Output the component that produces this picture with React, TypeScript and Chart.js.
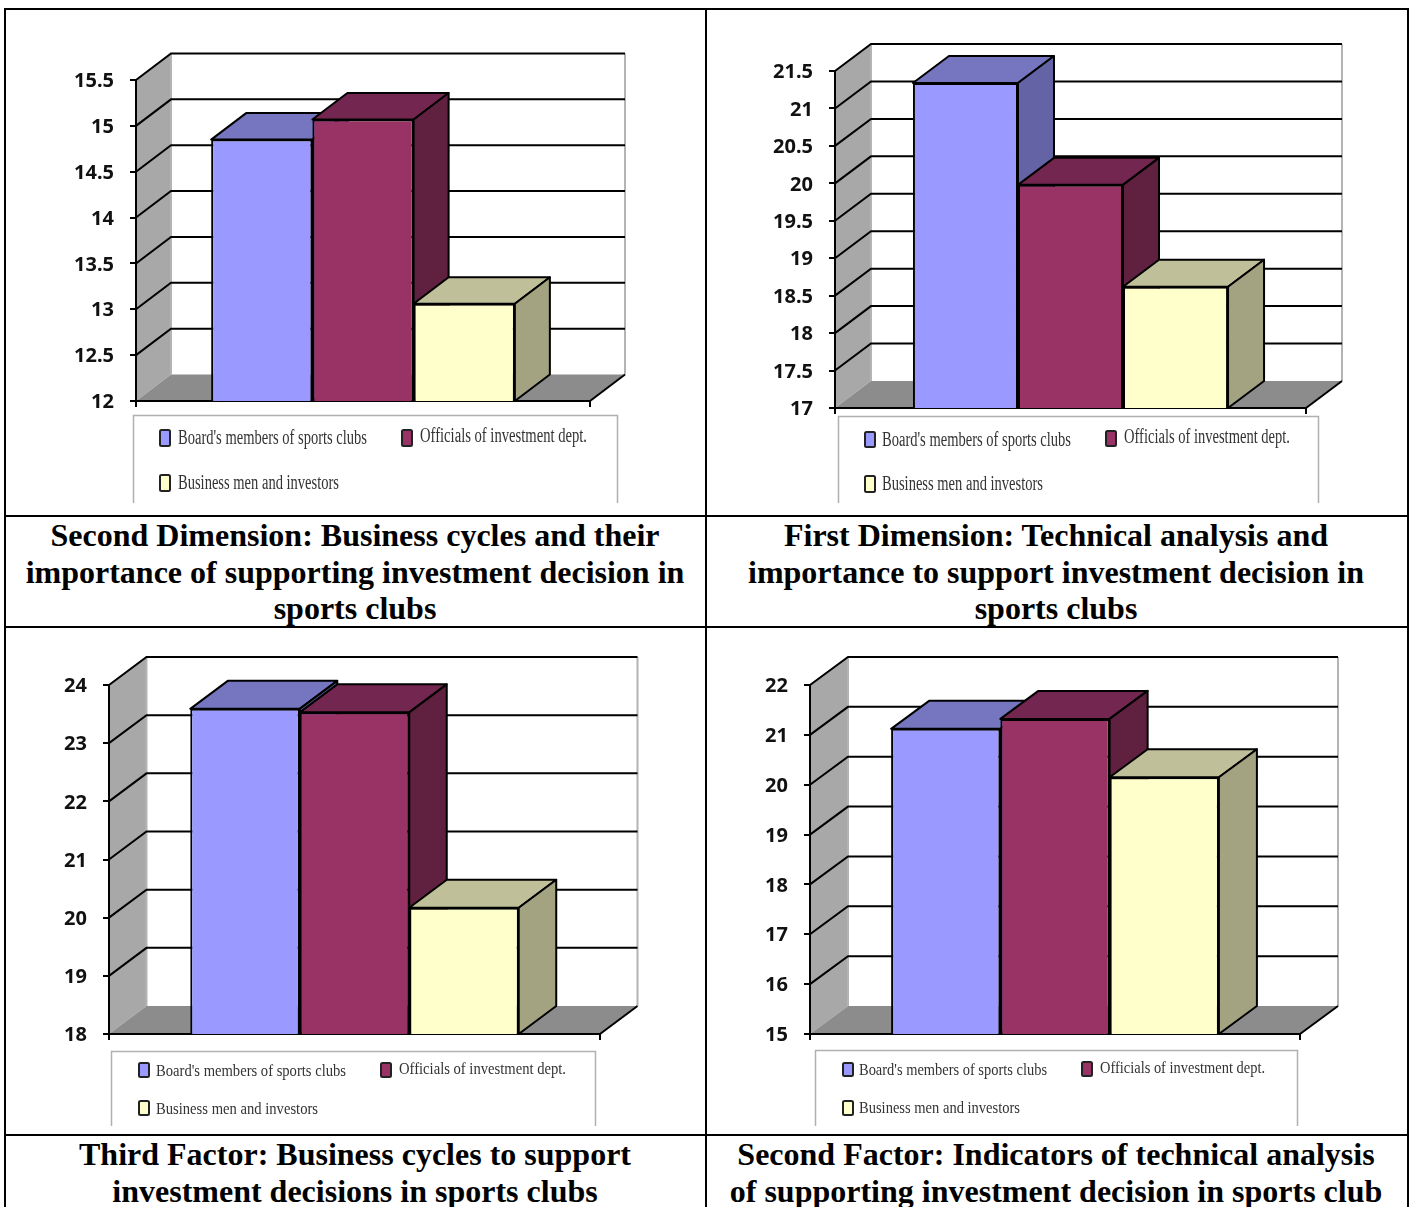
import React, { useEffect, useRef } from "react";
import { Chart, registerables } from "chart.js";

Chart.register(...registerables);

// Survey groups shown as the three bars of every panel
const groupLabels = ["Board's members of sports clubs", "Officials of investment dept.", "Business men and investors"];
const categories = [""];

// Mean scores per group
const secondDimensionValues = [14.85, 15.07, 13.06];
const firstDimensionValues = [21.34, 19.98, 18.62];
const thirdFactorValues = [23.59, 23.53, 20.17];
const secondFactorValues = [21.12, 21.32, 20.15];

// Value axis ranges: [min, max, step]
const secondDimensionRange = [12, 15.5, 0.5];
const firstDimensionRange = [17, 21.5, 0.5];
const thirdFactorRange = [18, 24, 1];
const secondFactorRange = [15, 22, 1];

const frontColors = ["#9999ff", "#993366", "#ffffcc"];
const topColors = ["#7575c0", "#732650", "#bfbf99"];
const sideColors = ["#6363a6", "#602040", "#a3a382"];

type LegendSlot = { sx: number; sy: number; sh: number; tx: number; tw: number; cy: number };
type PanelSpec = {
  values: number[];
  range: number[];
  box: { x: number; y: number; w: number; h: number };
  plot: { left: number; right: number; top: number; bottom: number; dx: number; dy: number };
  legendBox: { left: number; right: number; top: number; bottom: number };
  legendFont: number;
  slots: LegendSlot[];
};

const panels: PanelSpec[] = [
  {
    values: secondDimensionValues,
    range: secondDimensionRange,
    box: { x: 6, y: 10, w: 699, h: 505 },
    plot: { left: 136, right: 590, top: 80, bottom: 401, dx: 35, dy: 26.5 },
    legendBox: { left: 133, right: 617, top: 415, bottom: 503 },
    legendFont: 20,
    slots: [
      { sx: 160, sy: 430, sh: 16, tx: 178, tw: 189, cy: 439 },
      { sx: 402, sy: 430, sh: 16, tx: 420, tw: 167, cy: 437 },
      { sx: 160, sy: 475, sh: 16, tx: 178, tw: 161, cy: 484 },
    ],
  },
  {
    values: firstDimensionValues,
    range: firstDimensionRange,
    box: { x: 708, y: 10, w: 699, h: 505 },
    plot: { left: 835, right: 1306, top: 71, bottom: 408, dx: 36, dy: 27 },
    legendBox: { left: 838, right: 1318, top: 416, bottom: 503 },
    legendFont: 20,
    slots: [
      { sx: 865, sy: 432, sh: 15, tx: 882, tw: 189, cy: 441 },
      { sx: 1106, sy: 431, sh: 15, tx: 1124, tw: 166, cy: 438 },
      { sx: 865, sy: 476, sh: 16, tx: 882, tw: 161, cy: 485 },
    ],
  },
  {
    values: thirdFactorValues,
    range: thirdFactorRange,
    box: { x: 6, y: 629, w: 699, h: 505 },
    plot: { left: 109, right: 600, top: 685, bottom: 1034, dx: 37.5, dy: 28 },
    legendBox: { left: 111, right: 595, top: 1051, bottom: 1126 },
    legendFont: 17,
    slots: [
      { sx: 139, sy: 1063, sh: 14, tx: 156, tw: 190, cy: 1072 },
      { sx: 381, sy: 1063, sh: 14, tx: 399, tw: 167, cy: 1070 },
      { sx: 139, sy: 1101, sh: 14, tx: 156, tw: 162, cy: 1110 },
    ],
  },
  {
    values: secondFactorValues,
    range: secondFactorRange,
    box: { x: 708, y: 629, w: 699, h: 505 },
    plot: { left: 810, right: 1300, top: 685, bottom: 1034, dx: 38, dy: 28 },
    legendBox: { left: 815, right: 1297, top: 1050, bottom: 1126 },
    legendFont: 17,
    slots: [
      { sx: 843, sy: 1063, sh: 13, tx: 859, tw: 188, cy: 1071 },
      { sx: 1082, sy: 1062, sh: 14, tx: 1100, tw: 165, cy: 1069 },
      { sx: 843, sy: 1101, sh: 14, tx: 859, tw: 161, cy: 1109 },
    ],
  },
];

const captions = [
  { cx: 355, top: 517, lines: ["Second Dimension: Business cycles and their", "importance of supporting investment decision in", "sports clubs"] },
  { cx: 1056, top: 517, lines: ["First Dimension: Technical analysis and", "importance to support investment decision in", "sports clubs"] },
  { cx: 355, top: 1136, lines: ["Third Factor: Business cycles to support", "investment decisions in sports clubs"] },
  { cx: 1056, top: 1136, lines: ["Second Factor: Indicators of technical analysis", "of supporting investment decision in sports club"] },
];

const tableLines = [
  { left: 4, top: 8, width: 1405, height: 2 },
  { left: 4, top: 515, width: 1405, height: 2 },
  { left: 4, top: 626, width: 1405, height: 2 },
  { left: 4, top: 1134, width: 1405, height: 2 },
  { left: 4, top: 8, width: 2, height: 1199 },
  { left: 705, top: 8, width: 2, height: 1199 },
  { left: 1407, top: 8, width: 2, height: 1199 },
];

function polygon(ctx: CanvasRenderingContext2D, pts: number[][], fill: string) {
  ctx.beginPath();
  pts.forEach(([x, y], i) => (i ? ctx.lineTo(x, y) : ctx.moveTo(x, y)));
  ctx.closePath();
  ctx.fillStyle = fill;
  ctx.fill();
}

// Draws the box the bars stand in, the depth faces of the bars and the legend frame
function makeDepthPlugin(spec: PanelSpec) {
  const { dx, dy } = spec.plot;
  return {
    id: "depthBox",
    beforeDraw(chart: any) {
      const { ctx, chartArea, scales } = chart;
      const { left, right, top, bottom } = chartArea;
      const bl = left + dx;
      const br = right + dx;
      ctx.save();
      polygon(ctx, [[left, top], [bl, top - dy], [bl, bottom - dy], [left, bottom]], "#a8a8a8");
      polygon(ctx, [[left, bottom], [bl, bottom - dy], [br, bottom - dy], [right, bottom]], "#8c8c8c");

      ctx.strokeStyle = "#b4b4b4";
      ctx.lineWidth = 2;
      ctx.beginPath();
      ctx.moveTo(bl, top - dy);
      ctx.lineTo(bl, bottom - dy);
      ctx.moveTo(br, top - dy);
      ctx.lineTo(br, bottom - dy);
      ctx.stroke();

      ctx.strokeStyle = "#000";
      ctx.lineWidth = 2;
      scales.y.ticks.forEach((tick: any, i: number) => {
        if (i === 0) return;
        const py = scales.y.getPixelForValue(tick.value);
        ctx.beginPath();
        ctx.moveTo(left, py);
        ctx.lineTo(bl, py - dy);
        ctx.lineTo(br, py - dy);
        ctx.stroke();
      });
      ctx.beginPath();
      ctx.moveTo(right, bottom);
      ctx.lineTo(br, bottom - dy);
      ctx.stroke();
      ctx.restore();
    },
    beforeDatasetsDraw(chart: any) {
      const { ctx, chartArea } = chart;
      ctx.save();
      ctx.strokeStyle = "#000";
      ctx.lineWidth = 2;
      ctx.lineJoin = "round";
      chart.data.datasets.forEach((_: any, i: number) => {
        const bar = chart.getDatasetMeta(i).data[0];
        const l = bar.x - bar.width / 2;
        const r = bar.x + bar.width / 2;
        const t = bar.y;
        // The bars rise from zero, so the visible foot sits on the axis floor
        const b = Math.min(bar.base, chartArea.bottom);
        polygon(ctx, [[l, t], [l + dx, t - dy], [r + dx, t - dy], [r, t]], topColors[i]);
        ctx.stroke();
        polygon(ctx, [[r, t], [r + dx, t - dy], [r + dx, b - dy], [r, b]], sideColors[i]);
        ctx.stroke();
      });
      ctx.restore();
    },
    afterDraw(chart: any) {
      const { ctx } = chart;
      const { box, legendBox, legendFont, slots } = spec;
      ctx.save();
      ctx.translate(-box.x, -box.y);
      ctx.strokeStyle = "#b0b0b0";
      ctx.lineWidth = 1.5;
      ctx.beginPath();
      ctx.moveTo(legendBox.left + 0.5, legendBox.bottom);
      ctx.lineTo(legendBox.left + 0.5, legendBox.top + 0.5);
      ctx.lineTo(legendBox.right + 0.5, legendBox.top + 0.5);
      ctx.lineTo(legendBox.right + 0.5, legendBox.bottom);
      ctx.stroke();

      ctx.textBaseline = "middle";
      ctx.textAlign = "left";
      ctx.font = `${legendFont}px "Liberation Serif"`;
      chart.data.datasets.forEach((ds: any, i: number) => {
        const s = slots[i];
        ctx.beginPath();
        ctx.roundRect(s.sx, s.sy, 10, s.sh, 1.5);
        ctx.fillStyle = frontColors[i];
        ctx.fill();
        ctx.strokeStyle = "#222";
        ctx.lineWidth = 2;
        ctx.stroke();
        ctx.fillStyle = "#333";
        ctx.fillText(ds.label, s.tx, s.cy, s.tw);
      });
      ctx.restore();
    },
  };
}

function Panel({ spec }: { spec: PanelSpec }) {
  const ref = useRef<HTMLCanvasElement>(null);
  useEffect(() => {
    const { box, plot, range, values } = spec;
    const axisWidth = 70;
    const tickLength = 6;
    const chart = new Chart(ref.current!, {
      type: "bar",
      data: {
        labels: categories,
        datasets: groupLabels.map((label, i) => ({
          label,
          data: [values[i]],
          backgroundColor: frontColors[i],
          borderColor: "#000",
          borderWidth: 2,
          borderSkipped: false,
          categoryPercentage: 0.669,
          barPercentage: 1,
        })),
      },
      plugins: [makeDepthPlugin(spec)],
      options: {
        responsive: false,
        animation: false,
        layout: {
          autoPadding: false,
          padding: {
            left: plot.left - box.x - axisWidth,
            right: box.x + box.w - plot.right,
            top: plot.top - box.y,
            bottom: box.y + box.h - plot.bottom - tickLength,
          },
        },
        plugins: { legend: { display: false }, tooltip: { enabled: false } },
        scales: {
          x: {
            afterFit: (s: any) => {
              s.height = tickLength;
            },
            ticks: { display: false },
            border: { color: "#000", width: 2 },
            grid: { drawOnChartArea: false, color: "#000", lineWidth: 2, tickLength },
          },
          y: {
            min: range[0],
            max: range[1],
            afterFit: (s: any) => {
              s.width = axisWidth;
            },
            ticks: {
              stepSize: range[2],
              padding: 16,
              labelOffset: 1.5,
              color: "#111",
              font: { family: '"Noto Sans"', size: 20, weight: "bold" },
              callback: (v: any) => String(v),
            },
            border: { color: "#000", width: 2 },
            grid: { drawOnChartArea: false, color: "#000", lineWidth: 2, tickLength },
          },
        },
      },
    } as any);
    return () => chart.destroy();
  }, [spec]);
  return (
    <canvas
      ref={ref}
      width={spec.box.w}
      height={spec.box.h}
      style={{ position: "absolute", left: spec.box.x, top: spec.box.y, display: "block" }}
    />
  );
}

export default function App() {
  return (
    <div style={{ position: "absolute", left: 0, top: 0, width: 1413, height: 1207, overflow: "hidden", background: "#fff" }}>
      {panels.map((spec, i) => (
        <Panel key={i} spec={spec} />
      ))}
      {tableLines.map((l, i) => (
        <div key={i} style={{ position: "absolute", background: "#000", ...l }} />
      ))}
      {captions.map((c, i) =>
        c.lines.map((line, j) => (
          <div
            key={`${i}-${j}`}
            style={{
              position: "absolute",
              left: c.cx - 345,
              width: 690,
              top: c.top + Math.round(j * 36.5),
              height: 36,
              lineHeight: "36px",
              textAlign: "center",
              whiteSpace: "nowrap",
              fontFamily: '"Liberation Serif", serif',
              fontWeight: "bold",
              fontSize: 32,
              color: "#000",
            }}
          >
            {line}
          </div>
        ))
      )}
    </div>
  );
}
